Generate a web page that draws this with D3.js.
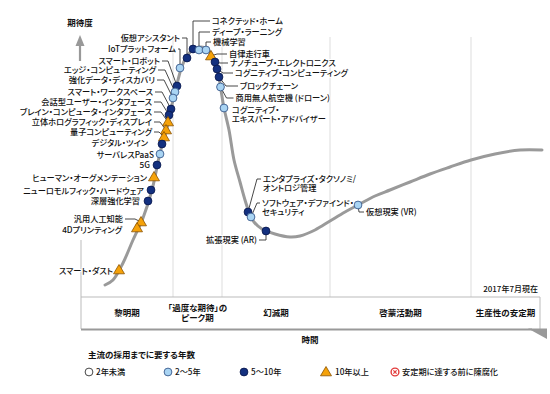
<!DOCTYPE html>
<html>
<head>
<meta charset="utf-8">
<script src="https://cdn.jsdelivr.net/npm/d3@7/dist/d3.min.js"></script>
<style>
  body { margin: 0; background: #fff; }
  svg text { font-family: "Noto Sans CJK JP", sans-serif; font-feature-settings: "palt"; fill: #111; }
</style>
</head>
<body>
<div id="graf"></div>
<script>
// I. Datos
fases = ['黎明期', '「過度な期待」の\nピーク期', '幻滅期', '啓蒙活動期', '生産性の安定期']
limitesFase = [0, 92, 141, 249, 390, 459]

// curva (tiempo, expectativa)
curvaT = [24, 32, 42, 52, 62, 71, 79, 86, 92, 97, 101, 106, 113, 120, 126, 131, 135, 138, 140, 143, 148, 153, 159, 164, 168, 173, 181, 194, 209, 219, 234, 249, 264, 277, 294, 309, 329, 349, 369, 390, 414, 439, 461]
curvaE = [12, 17, 34, 57, 79, 107, 144, 169, 197, 217, 231, 241, 248, 250, 248, 242, 233, 220, 207, 189, 167, 137, 115, 97, 85, 75, 68, 63, 60, 61, 67, 76, 85, 92, 101, 107, 115, 123, 130, 137, 143, 147, 147]

tecnologias = [
  '仮想アシスタント', 'IoTプラットフォーム', 'スマート・ロボット', 'エッジ・コンピューティング',
  '強化データ・ディスカバリ', 'スマート・ワークスペース', '会話型ユーザー・インタフェース',
  'ブレイン・コンピュータ・インタフェース', '立体ホログラフィック・ディスプレイ', '量子コンピューティング',
  'デジタル・ツイン', 'サーバレスPaaS', '5G', 'ヒューマン・オーグメンテーション',
  'ニューロモルフィック・ハードウェア', '深層強化学習', '汎用人工知能', '4Dプリンティング', 'スマート・ダスト',
  'コネクテッド・ホーム', 'ディープ・ラーニング', '機械学習', '自律走行車', 'ナノチューブ・エレクトロニクス',
  'コグニティブ・コンピューティング', 'ブロックチェーン', '商用無人航空機 (ドローン)',
  'コグニティブ・\nエキスパート・アドバイザー', 'エンタプライズ・タクソノミ/\nオントロジ管理',
  'ソフトウェア・デファインド・\nセキュリティ', '拡張現実 (AR)', '仮想現実 (VR)'
]
// a: 2年未満, b: 2~5年, c: 5~10年, d: 10年以上, e: 陳腐化
tipos = ['c', 'b', 'c', 'b', 'b', 'c', 'c', 'd', 'd', 'd', 'c', 'b', 'c', 'd', 'c', 'c', 'd', 'd', 'd',
         'c', 'b', 'b', 'd', 'c', 'c', 'c', 'b', 'b', 'c', 'b', 'c', 'b']
posT = [106, 99, 96, 94, 92, 90, 88, 87, 85, 83, 81, 79, 76, 73, 70, 67, 60, 56, 38,
        112, 118, 125, 130, 134, 136, 138, 139.5, 143, 167, 170, 185, 277]
posE = [239, 229, 211, 205, 199, 188, 182, 175, 167, 160, 153, 143, 132, 120, 107, 96, 75, 69, 27,
        248, 247, 247, 241, 235, 228, 220, 210, 189, 85, 80, 66, 92]

leyendaTitulo = '主流の採用までに要する年数'
leyendaTipos = ['a', 'b', 'c', 'd', 'e']
leyendaTextos = ['2年未満', '2～5年', '5～10年', '10年以上', '安定期に達する前に陳腐化']

// etiquetas: [dx, dy, codo dx, ancla] en px respecto al punto
etiquetas = [
  [-7, -20, 0, 'end'], [-4, -19, 0, 'end'], [-17, -25, -9, 'end'], [-19, -22, -10, 'end'],
  [-18, -18, -9, 'end'], [-18, -17, -9, 'end'], [-17, -13, -8, 'end'], [-16, -10, -7, 'end'],
  [-14, -8, -6, 'end'], [-12, -5, -5, 'end'], [-14, -1, null, 'end'], [-6, 1, null, 'end'],
  [-7, 0, null, 'end'], [-7, 1, null, 'end'], [-7, 1, null, 'end'], [-8, 0, null, 'end'],
  [-18, -3, -6, 'end'], [-15, 2, null, 'end'], [-6, 1, null, 'end'],
  [19, -28, 0, 'start'], [13, -18, 0, 'start'], [7, -8, 0, 'start'], [18, -2, 6, 'start'],
  [15, 1, 5, 'start'], [18, 4, 6, 'start'], [21, 9, 7, 'start'], [15, 11, 6, 'start'],
  [8, 2, null, 'start'], [15, -33, 9, 'start'], [11, -14, 6, 'start'], [-9, 9, 0, 'end'], [8, 7, 1, 'start']
]

// II. Configuración
ancho_total = 550
alto_total = 394

svg = d3.select('#graf').append('svg')
  .attr('width', ancho_total)
  .attr('height', alto_total)

x = d3.scaleLinear().domain([0, 460]).range([81, 541])
y = d3.scaleLinear().domain([0, 260]).range([297, 37])

colores = {
  a: { fill: '#ffffff', stroke: '#333333' },
  b: { fill: '#a9d4f3', stroke: '#3a5a8c' },
  c: { fill: '#13307f', stroke: '#0a1a50' },
  d: { fill: '#f5a20a', stroke: '#8a5200' },
  e: { fill: '#ffffff', stroke: '#e23a3a' }
}

function simbolo(g, tipo, cx, cy) {
  c = colores[tipo]
  if (tipo === 'd') {
    g.append('path')
      .attr('d', `M${cx},${cy - 5.5}L${cx + 5.5},${cy + 3.8}L${cx - 5.5},${cy + 3.8}Z`)
      .attr('fill', c.fill).attr('stroke', c.stroke).attr('stroke-width', 0.8)
  } else {
    g.append('circle').attr('cx', cx).attr('cy', cy).attr('r', 3.9)
      .attr('fill', c.fill).attr('stroke', c.stroke).attr('stroke-width', tipo === 'e' ? 1.4 : 0.9)
    if (tipo === 'e') {
      g.append('path')
        .attr('d', `M${cx - 1.6},${cy - 1.6}L${cx + 1.6},${cy + 1.6}M${cx + 1.6},${cy - 1.6}L${cx - 1.6},${cy + 1.6}`)
        .attr('stroke', c.stroke).attr('stroke-width', 1.2)
    }
  }
}

function texto(g, str, tx, ty, ancla, opts) {
  lineas = str.split('\n')
  t = g.append('text')
    .attr('x', tx).attr('y', ty)
    .attr('text-anchor', ancla)
    .style('font-size', (opts.size || 8.2) + 'px')
    .style('font-weight', opts.bold ? 'bold' : 500)
  if (opts.halo) {
    t.attr('stroke', '#fff').attr('stroke-width', 2).attr('paint-order', 'stroke')
  }
  lineas.forEach((l, i) => {
    t.append('tspan').attr('x', tx).attr('y', ty + i * (opts.lh || 9.5)).attr('dy', '0.35em').text(l)
  })
  return t
}

// III. Fondo: fases y marco
fondo = svg.append('g')
fondo.selectAll('line.fase')
  .data(limitesFase.slice(1, -1))
  .enter().append('line')
  .attr('x1', d => x(d)).attr('x2', d => x(d))
  .attr('y1', y(260)).attr('y2', y(0))
  .attr('stroke', '#dddddd').attr('stroke-width', 1)

fondo.append('line')
  .attr('x1', x(0)).attr('x2', x(459)).attr('y1', y(0)).attr('y2', y(0))
  .attr('stroke', '#bbbbbb')
fondo.append('line')
  .attr('x1', x(459)).attr('x2', x(459)).attr('y1', y(0)).attr('y2', 329)
  .attr('stroke', '#bbbbbb')
fondo.append('line')
  .attr('x1', x(0)).attr('x2', x(0)).attr('y1', y(57)).attr('y2', 329)
  .attr('stroke', '#bbbbbb')
// eje de tiempo
fondo.append('line')
  .attr('x1', x(0)).attr('x2', 532).attr('y1', 329.5).attr('y2', 329.5)
  .attr('stroke', '#999999').attr('stroke-width', 2)
fondo.append('path')
  .attr('d', 'M528,328.5L547,328.5L547,339Z')
  .attr('fill', '#999999')
// eje de expectativa
fondo.append('line')
  .attr('x1', 80).attr('x2', 80).attr('y1', 43).attr('y2', 61)
  .attr('stroke', '#999999').attr('stroke-width', 2.2)
fondo.append('path')
  .attr('d', 'M80,35L84.5,46L75.5,46Z')
  .attr('fill', '#999999')

texto(svg, '期待度', 80, 23, 'middle', { bold: true, size: 8.5 })
texto(svg, '時間', 310, 340, 'middle', { bold: true, size: 8.5 })
texto(svg, '2017年7月現在', 538, 289, 'end', { size: 8 })

fases.forEach((f, i) => {
  cx = (x(limitesFase[i]) + x(limitesFase[i + 1])) / 2
  n = f.split('\n').length
  texto(svg, f, cx, 313 - (n - 1) * 4.75, 'middle', { bold: true, size: 8.5 })
})

// IV. Curva
puntos = curvaT.map((t, i) => [t, curvaE[i]])
linea = d3.line()
  .x(d => x(d[0]))
  .y(d => y(d[1]))
  .curve(d3.curveCatmullRom.alpha(0.5))

svg.append('path')
  .datum(puntos)
  .attr('d', linea)
  .attr('fill', 'none')
  .attr('stroke', '#9a9a9a')
  .attr('stroke-width', 3)
  .attr('stroke-linecap', 'round')

// V. Líneas guía, marcadores y etiquetas
guias = svg.append('g')
marcas = svg.append('g')
textos = svg.append('g')

tecnologias.forEach((nombre, i) => {
  px = x(posT[i])
  py = y(posE[i])
  e = etiquetas[i]
  lx = px + e[0]
  ly = py + e[1]
  if (e[2] !== null) {
    fin = e[3] === 'end' ? lx + 2 : lx - 2
    guias.append('path')
      .attr('d', `M${px},${py}L${px + e[2]},${ly}L${fin},${ly}`)
      .attr('fill', 'none')
      .attr('stroke', '#333333')
      .attr('stroke-width', 0.9)
  }
  simbolo(marcas, tipos[i], px, py)
  texto(textos, nombre, lx, ly, e[3], { size: 8.2, halo: true })
})

// VI. Leyenda
leyendaX = [89, 168, 244, 326, 395]
texto(svg, leyendaTitulo, 88, 355, 'start', { bold: true, size: 8.5 })
leyendaTipos.forEach((t, i) => {
  simbolo(svg, t, leyendaX[i], 372)
  texto(svg, leyendaTextos[i], leyendaX[i] + (t === 'd' ? 9 : 7), 372, 'start', { size: 8.2 })
})
</script>
</body>
</html>
